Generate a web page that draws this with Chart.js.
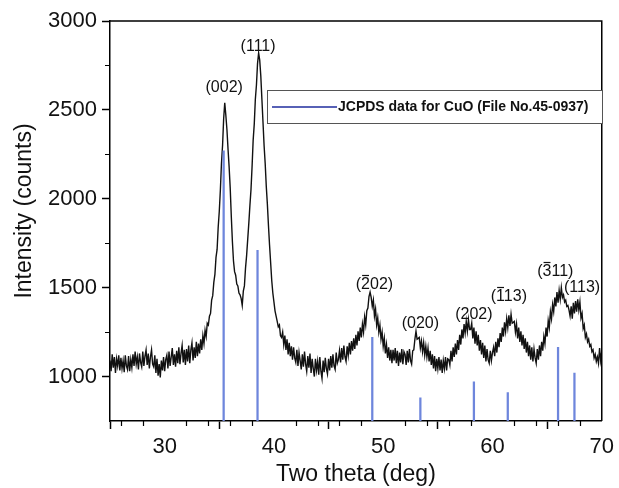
<!DOCTYPE html>
<html><head><meta charset="utf-8">
<script src="https://cdn.jsdelivr.net/npm/chart.js@4"></script>
<style>html,body{margin:0;padding:0;background:#fff}#wrap{width:619px;height:488px}</style>
</head><body><div id="wrap"><canvas id="c" width="619" height="488"></canvas></div>
<script>
// ---- data ----
const thetaStart = 25, thetaStep = 0.1; // 2-theta sampling of the measured pattern
const intensity = [
1090,1030,1125,1050,1110,1020,1100,1060,1120,1035,
1105,1045,1090,1025,1120,1060,1040,1115,1030,1095,
1050,1125,1060,1140,1070,1110,1040,1130,1080,1055,
1140,1060,1115,1150,1065,1130,1045,1110,1150,1070,
1055,1120,1020,1100,1005,1070,995,1090,1035,1110,
1030,1095,1120,1045,1140,1060,1110,1160,1065,1125,
1055,1145,1075,1165,1070,1130,1175,1080,1150,1065,
1155,1085,1175,1075,1150,1190,1090,1165,1105,1195,
1115,1185,1130,1210,1150,1230,1185,1260,1225,1300,
1290,1340,1355,1430,1455,1530,1575,1670,1715,1840,
1930,2050,2200,2300,2450,2540,2470,2390,2280,2180,
2060,1900,1760,1650,1590,1570,1520,1510,1470,1460,
1440,1400,1480,1510,1610,1680,1770,1860,1960,2050,
2180,2330,2420,2560,2640,2760,2820,2780,2690,2560,
2430,2300,2200,2070,1970,1850,1740,1640,1540,1470,
1420,1370,1340,1310,1280,1290,1230,1220,1250,1180,
1230,1150,1210,1125,1190,1115,1170,1095,1165,1105,
1080,1150,1060,1135,1090,1040,1125,1055,1140,1070,
1030,1115,1050,1130,1020,1100,1045,1000,1100,1035,
1085,1010,1110,1030,990,1090,1025,1105,1045,1015,
1100,1035,1115,1050,1125,1060,1040,1135,1075,1095,
1145,1080,1160,1095,1175,1110,1085,1170,1120,1190,
1125,1200,1145,1215,1155,1235,1175,1255,1200,1275,
1220,1295,1250,1335,1290,1370,1385,1450,1475,1445,
1395,1430,1340,1380,1290,1330,1250,1290,1210,1250,
1170,1215,1130,1180,1105,1165,1090,1150,1075,1150,
1090,1160,1075,1145,1060,1135,1080,1155,1070,1140,
1125,1065,1145,1080,1155,1090,1070,1145,1150,1210,
1255,1210,1215,1220,1160,1200,1140,1190,1120,1170,
1110,1160,1085,1145,1065,1125,1045,1115,1030,1100,
1045,1110,1035,1095,1020,1090,1045,1110,1035,1100,
1095,1065,1145,1085,1165,1110,1185,1125,1205,1150,
1235,1180,1265,1215,1295,1245,1310,1255,1320,1265,
1265,1300,1215,1275,1185,1255,1175,1235,1145,1205,
1125,1190,1105,1175,1085,1155,1095,1075,1145,1090,
1135,1165,1115,1195,1135,1215,1165,1245,1195,1275,
1225,1305,1255,1325,1275,1345,1285,1350,1300,1305,
1310,1250,1295,1215,1275,1195,1255,1175,1235,1155,
1215,1135,1195,1115,1175,1095,1165,1085,1155,1105,
1075,1155,1095,1175,1115,1195,1145,1225,1185,1275,
1225,1315,1275,1365,1325,1405,1365,1445,1395,1475,
1415,1485,1435,1500,1445,1460,1420,1430,1395,1400,
1375,1340,1395,1325,1415,1355,1425,1365,1435,1375,
1420,1330,1355,1270,1290,1220,1240,1195,1210,1170,
1180,1140,1150,1105,1125,1085,1110,1075,1160,1090,
1140
];
const stickTheta = [35.4, 38.5, 49.0, 53.4, 58.3, 61.4, 66.0, 67.5];
const stickIntensity = [2270, 1710, 1220, 880, 970, 910, 1165, 1020];
const stickLabel = 'JCPDS data for CuO (File No.45-0937)';
const peakLabels = ['(002)', '(111)', '(202)', '(020)', '(202)', '(113)', '(311)', '(113)'];
const peakBarredDigit = [-1, -1, 1, -1, -1, 1, 1, -1]; // character index carrying an overbar (negative Miller index)
const peakTheta = [35.45, 38.55, 49.2, 53.4, 58.3, 61.5, 65.75, 68.2];
const peakIntensity = [2625, 2858, 1515, 1300, 1350, 1450, 1590, 1502];
const xTickValues = [30, 40, 50, 60, 70];
const xMinorTicks = [26, 28, 32, 34, 36, 38, 42, 44, 46, 48, 52, 54, 56, 58, 62, 64, 66, 68];
const yTickValues = [1000, 1500, 2000, 2500, 3000];
const yMinorTicks = [1250, 1750, 2250, 2750];
const xTitle = 'Two theta (deg)';
const yTitle = 'Intensity (counts)';

const FONT = "'Liberation Sans', Arial, sans-serif";
const curve = intensity.map((v, i) => ({x: +(thetaStart + i * thetaStep).toFixed(2), y: v}));
const sticks = stickTheta.map((t, i) => ({x: t, y: stickIntensity[i]}));

const decor = {
  id: 'decor',
  afterDatasetsDraw(chart) {
    const {ctx, chartArea: a, scales: {x, y}} = chart;
    ctx.save();
    // top and right frame
    ctx.strokeStyle = '#000'; ctx.lineWidth = 1.5;
    ctx.beginPath();
    ctx.moveTo(a.left, a.top); ctx.lineTo(a.right, a.top); ctx.lineTo(a.right, a.bottom);
    ctx.stroke();
    // minor ticks
    ctx.lineWidth = 1.2;
    ctx.beginPath();
    xMinorTicks.forEach(v => { const px = Math.round(x.getPixelForValue(v)) + 0.5; ctx.moveTo(px, a.bottom); ctx.lineTo(px, a.bottom + 5); });
    yMinorTicks.forEach(v => { const py = Math.round(y.getPixelForValue(v)) + 0.5; ctx.moveTo(a.left, py); ctx.lineTo(a.left - 5, py); });
    ctx.stroke();
    // y axis title (sits slightly above the plot centre in the reference)
    ctx.save();
    ctx.fillStyle = '#111'; ctx.font = '23px ' + FONT;
    ctx.textAlign = 'center'; ctx.textBaseline = 'middle';
    ctx.translate(25, (a.top + a.bottom) / 2 - 10);
    ctx.rotate(-Math.PI / 2);
    ctx.fillText(yTitle, 0, 0);
    ctx.restore();
    // peak labels (Miller indices, with overbar for negative index)
    const fs = 16;
    ctx.fillStyle = '#111'; ctx.strokeStyle = '#111'; ctx.lineWidth = 1.2;
    ctx.font = fs + 'px ' + FONT;
    ctx.textAlign = 'left'; ctx.textBaseline = 'middle';
    peakLabels.forEach((t, i) => {
      const cx = x.getPixelForValue(peakTheta[i]), cy = y.getPixelForValue(peakIntensity[i]);
      const w = ctx.measureText(t).width;
      const x0 = cx - w / 2;
      ctx.fillText(t, x0, cy);
      const k = peakBarredDigit[i];
      if (k >= 0) {
        const bx0 = x0 + ctx.measureText(t.slice(0, k)).width;
        const bw = ctx.measureText(t[k]).width;
        const byy = Math.round(cy - fs * 0.62) + 0.5;
        ctx.beginPath(); ctx.moveTo(bx0 + 1, byy); ctx.lineTo(bx0 + bw - 1, byy); ctx.stroke();
      }
    });
    // legend box
    const bx = 267, by = 90, bw = 335, bh = 33;
    ctx.fillStyle = '#fff'; ctx.fillRect(bx, by, bw, bh);
    ctx.strokeStyle = '#555'; ctx.lineWidth = 1;
    ctx.strokeRect(bx + 0.5, by + 0.5, bw, bh);
    ctx.strokeStyle = '#1f2d9e'; ctx.lineWidth = 1.5;
    ctx.beginPath(); ctx.moveTo(bx + 5, by + 17); ctx.lineTo(bx + 70, by + 17); ctx.stroke();
    ctx.fillStyle = '#111'; ctx.font = 'bold 14px ' + FONT;
    ctx.textAlign = 'left';
    ctx.fillText(stickLabel, bx + 71, by + 17);
    ctx.restore();
  }
};

new Chart(document.getElementById('c'), {
  type: 'line',
  data: {
    datasets: [
      {type: 'bar', label: stickLabel, data: sticks, backgroundColor: '#6e86dc', borderWidth: 0, barThickness: 1.6, order: 0},
      {type: 'line', label: 'CuO', data: curve, borderColor: '#111', borderWidth: 1.4, pointRadius: 0, tension: 0, order: 1}
    ]
  },
  options: {
    responsive: false, animation: false, devicePixelRatio: 1,
    layout: {padding: {top: 21, right: 14, left: 0, bottom: 0}},
    plugins: {legend: {display: false}, tooltip: {enabled: false}},
    scales: {
      x: {
        type: 'linear', min: 25, max: 70, offset: false,
        afterBuildTicks: s => { s.ticks = xTickValues.map(v => ({value: v})); },
        afterFit: s => { s.height = 67; },
        grid: {drawOnChartArea: false, drawTicks: true, tickLength: 8, tickColor: '#000', tickWidth: 1.5},
        border: {display: true, color: '#000', width: 1.5},
        ticks: {color: '#111', font: {family: FONT, size: 22}, padding: 5, maxRotation: 0, autoSkip: false, callback: v => String(v)},
        title: {display: true, text: xTitle, color: '#111', font: {family: FONT, size: 23}, padding: {top: 0, bottom: 0}}
      },
      y: {
        type: 'linear', min: 750, max: 3000,
        afterBuildTicks: s => { s.ticks = yTickValues.map(v => ({value: v})); },
        afterFit: s => { s.width = 110; },
        grid: {drawOnChartArea: false, drawTicks: true, tickLength: 8, tickColor: '#000', tickWidth: 1.5},
        border: {display: true, color: '#000', width: 1.5},
        ticks: {color: '#111', font: {family: FONT, size: 22}, padding: 5, autoSkip: false, callback: v => String(v)},
        title: {display: false, text: yTitle}
      }
    }
  },
  plugins: [decor]
});
</script>
</body></html>
